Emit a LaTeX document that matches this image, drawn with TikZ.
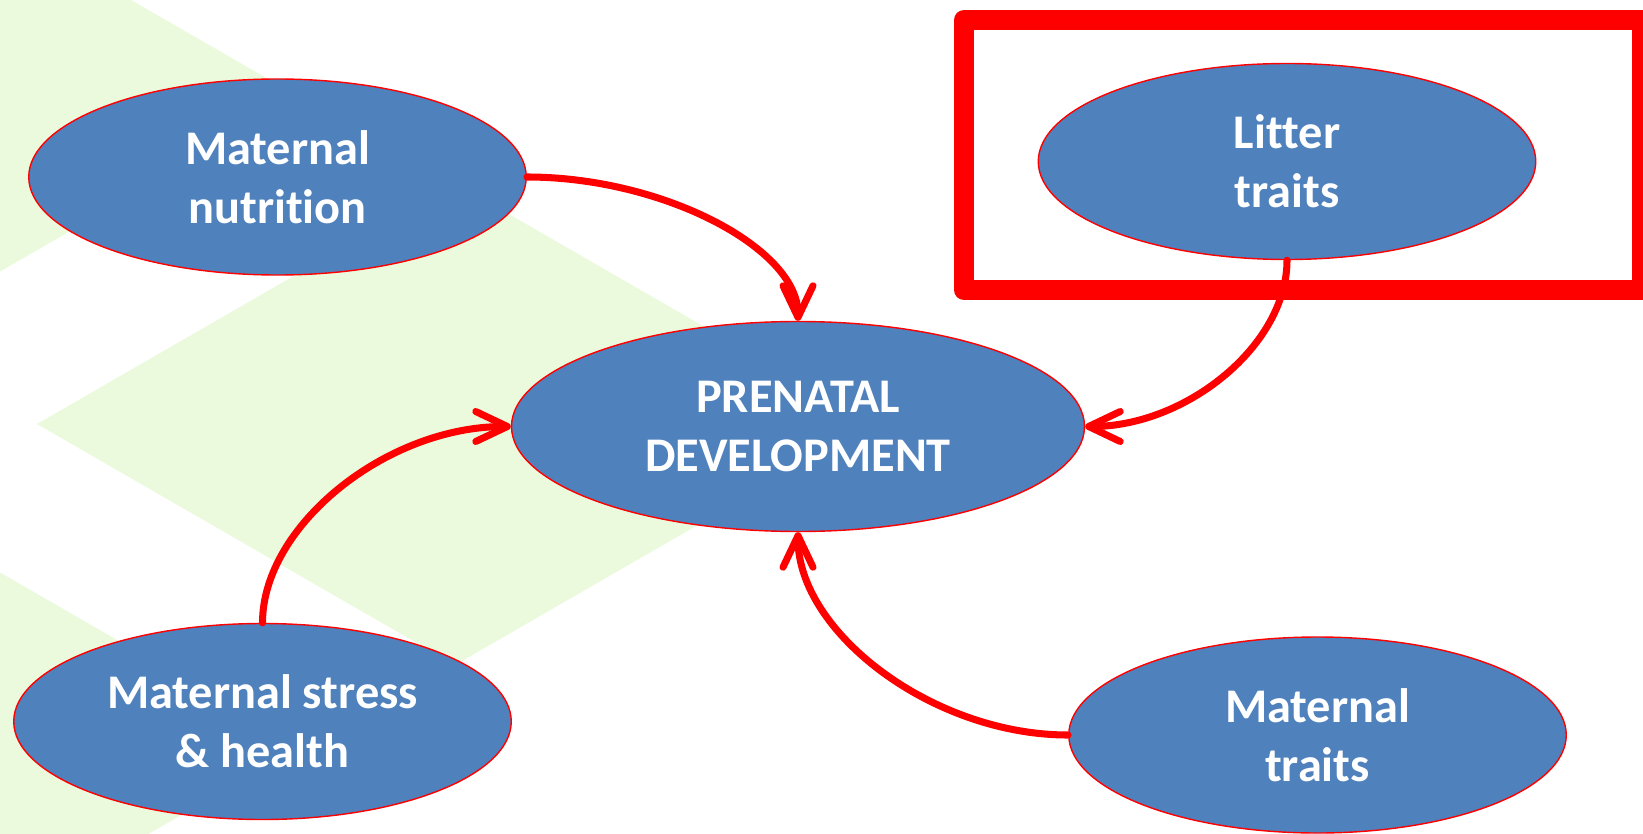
\documentclass[tikz,border=0pt]{standalone}
\usepackage{fontspec}
\setmainfont{Carlito}[Ligatures=NoCommon]
\usetikzlibrary{positioning, shapes.geometric, arrows.meta}

\definecolor{nodeblue}{RGB}{79,129,189}
\definecolor{leafgreen}{RGB}{235,249,220}

\begin{document}
\begin{tikzpicture}[
    factor/.style={ellipse, draw=red, line width=0.8pt, fill=nodeblue, text=white,
        font=\fontsize{27.5}{33.5}\selectfont\bfseries, align=center, inner sep=0pt,
        minimum width=9.95cm, minimum height=3.92cm},
    centre/.style={factor, minimum width=11.46cm, minimum height=4.2cm},
    link/.style={red, line width=4pt, line cap=round,
        -{Straight Barb[length=6.3mm, width=6mm, round]}},
    highlight/.style={draw=red, line width=0.4cm, line join=round},
    tile/.style={fill=leafgreen},
    on grid
]
\useasboundingbox (0,0) rectangle (32.86,-16.66);

% Background tiles
\begin{scope}
\clip (0,0) rectangle (32.86,-16.66);
\fill[tile] (-10.70,-1.96) -- (-2.34,2.86) -- (6.02,-1.96) -- (-2.34,-6.78) -- cycle;
\fill[tile] (0.74,-8.48) -- (9.10,-3.66) -- (17.46,-8.48) -- (9.10,-13.30) -- cycle;
\fill[tile] (-10.70,-14.92) -- (-2.34,-10.10) -- (6.02,-14.92) -- (-2.34,-19.74) -- cycle;
\end{scope}

% Highlight frame
\draw[highlight] (19.28,-0.40) rectangle (32.84,-5.80);

% Factors
\node[centre] (dev) at (15.96,-8.53) {PRENATAL\\DEVELOPMENT};
\node[factor, above left=4.99cm and 10.41cm of dev] (nutrition) {Maternal\\nutrition};
\node[factor, below left=5.90cm and 10.71cm of dev] (stress) {Maternal stress\\\& health};
\node[factor, above right=5.30cm and 9.78cm of dev] (litter) {Litter\\traits};
\node[factor, below right=6.17cm and 10.39cm of dev] (traits) {Maternal\\traits};

% Arrows
\draw[link] (nutrition.east) to[out=0, in=90, out distance=2.72cm, in distance=1.45cm] (dev.north);
\draw[link] (stress.north) to[out=90, in=180, out distance=1.94cm, in distance=2.49cm] (dev.west);
\draw[link] (litter.south) to[out=-90, in=0, out distance=1.7cm, in distance=2.02cm] (dev.east);
\draw[link] (traits.west) to[out=180, in=-90, out distance=2.71cm, in distance=2.0cm] (dev.south);

\end{tikzpicture}
\end{document}
